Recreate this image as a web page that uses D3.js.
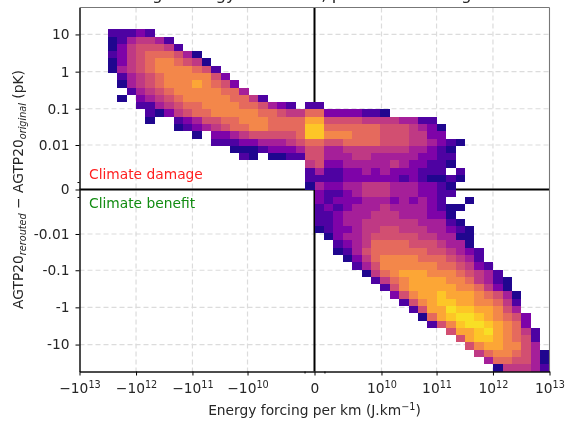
<!DOCTYPE html>
<html>
<head>
<meta charset="utf-8">
<script src="https://cdn.jsdelivr.net/npm/d3@7"></script>
<style>
  html, body { margin: 0; padding: 0; background: #fff; }
  svg { display: block; filter: blur(0.35px); }
  text { font-family: "DejaVu Sans"; fill: #262626; }
</style>
</head>
<body>
<script>
// ----- data -----
const xTickValues = [-1e13, -1e12, -1e11, -1e10, 0, 1e10, 1e11, 1e12, 1e13];
const xTickExponents = [13, 12, 11, 10, null, 10, 11, 12, 13];
const yTickValues = [10, 1, 0.1, 0.01, 0, -0.01, -0.1, -1, -10];
const yTickLabels = ['10', '1', '0.1', '0.01', '0', '-0.01', '-0.1', '-1', '-10'];
const xMinorTicks = [-3.5e8, 3.5e8];
const yMinorTicks = [-4e-4, 4e-4];

// plasma position for each density level character 0-9 and a
const levelValues = [0.03, 0.13, 0.25, 0.36, 0.45, 0.53, 0.62, 0.71, 0.8, 0.88, 0.94];

// first filled column of each row, top row first (50 x 50 bins)
const rowStart = [
  0, 0, 0, 3, 3, 3, 3, 3, 3, 4,
  4, 5, 4, 6, 7, 7, 10, 12, 14, 16,
  17, 24, 24, 24, 24, 25, 25, 25, 25, 25,
  25, 26, 27, 27, 28, 29, 30, 31, 32, 33,
  34, 35, 36, 37, 39, 40, 41, 42, 43, 44
];
// density level of each bin, '.' is an empty bin
const rowLevels = [
  '', '', '',
  '11121',
  '0134431',
  '02455541',
  '1245666530',
  '02456776540',
  '034567777651',
  '134567777752',
  '0345677787652',
  '1345677777663',
  '0.23456777776641',
  '11345667777665321.11',
  '10245667777766544662222110',
  '0..1235566777666688555544443311',
  '01234566776666996666665554320',
  '0.2234555556997776665554422',
  '111223334566556666555443210',
  '000122235533444444433210',
  '10.00115533344333332211',
  '4522333334322110',
  '131122323222111.1',
  '11112222221210010',
  '0322334443332210',
  '211234443332211',
  '21222333232321..0',
  '1212333433332100',
  '112333444333220',
  '1123344444433310',
  '01223445544433210',
  '0233455555443300',
  '123466665554330',
  '0135666666554321',
  '024677776665431',
  '135777777665421',
  '046788877765431',
  '146788887764310',
  '15788888776420',
  '25788988876530',
  '1578998877641',
  '1588a9988753',
  '0689aa987652',
  '1579aa98762',
  '5889a87641',
  '589987651',
  '57887753',
  '46776530',
  '3665530',
  '044431'
];

// ----- creates svg -----
const plotLeft = 79.5, plotRight = 549.5, plotTop = 7.5, plotBottom = 371.5;
const fontSize = 13.8, smallFont = 9.7;

const svg = d3.select('body')
  .append('svg')
  .attr('width', 568)
  .attr('height', 426);

// ----- scales -----
const x = d3.scaleSymlog().constant(7e8).domain([-1e13, 1e13]).range([plotLeft, plotRight]);
const y = d3.scaleSymlog().constant(6.8e-4).domain([53, -53]).range([plotTop, plotBottom]);
const colBand = d3.scaleBand().domain(d3.range(50)).range([plotLeft, plotRight]);
const rowBand = d3.scaleBand().domain(d3.range(50)).range([plotTop, plotBottom]);
const color = d3.scaleSequential(d3.interpolatePlasma).domain([0, 1]);

// ----- grid -----
const grid = svg.append('g')
  .attr('stroke', '#dcdcdc')
  .attr('stroke-width', 1.2)
  .attr('stroke-dasharray', '5,3');

grid.selectAll('.vgrid')
  .data(xTickValues.slice(1, -1).filter(d => d !== 0))
  .join('line')
  .attr('class', 'vgrid')
  .attr('x1', d => x(d)).attr('x2', d => x(d))
  .attr('y1', plotTop).attr('y2', plotBottom);

grid.selectAll('.hgrid')
  .data(yTickValues.filter(d => d !== 0))
  .join('line')
  .attr('class', 'hgrid')
  .attr('x1', plotLeft).attr('x2', plotRight)
  .attr('y1', d => y(d)).attr('y2', d => y(d));

// ----- zero lines, the bins sit on top of them -----
svg.append('line')
  .attr('x1', plotLeft).attr('x2', plotRight)
  .attr('y1', y(0)).attr('y2', y(0))
  .attr('stroke', '#000').attr('stroke-width', 2);
svg.append('line')
  .attr('x1', x(0)).attr('x2', x(0))
  .attr('y1', plotTop).attr('y2', plotBottom)
  .attr('stroke', '#000').attr('stroke-width', 2);

// ----- bins -----
const cells = [];
rowLevels.forEach((levels, row) => {
  levels.split('').forEach((ch, i) => {
    if (ch !== '.') cells.push({ row, col: rowStart[row] + i, level: parseInt(ch, 11) });
  });
});

svg.append('g')
  .selectAll('rect')
  .data(cells)
  .join('rect')
  .attr('x', d => colBand(d.col))
  .attr('y', d => rowBand(d.row))
  .attr('width', colBand.bandwidth())
  .attr('height', rowBand.bandwidth())
  .attr('shape-rendering', 'crispEdges')
  .attr('fill', d => color(levelValues[d.level]));

// ----- spines -----
svg.append('line').attr('x1', plotLeft).attr('x2', plotRight).attr('y1', plotTop).attr('y2', plotTop)
  .attr('stroke', '#777').attr('stroke-width', 1.1);
svg.append('line').attr('x1', plotRight).attr('x2', plotRight).attr('y1', plotTop).attr('y2', plotBottom)
  .attr('stroke', '#777').attr('stroke-width', 1.1);

// ----- axes -----
const xAxis = svg.append('g')
  .attr('transform', `translate(0, ${plotBottom})`)
  .call(d3.axisBottom(x).tickValues(xTickValues).tickSize(4).tickSizeOuter(0).tickFormat(''));
xAxis.selectAll('text').remove();

xAxis.selectAll('.tick').append('text')
  .attr('y', 21.5)
  .attr('text-anchor', 'middle')
  .attr('font-size', fontSize)
  .each(function (d, i) {
    const label = d3.select(this);
    const exponent = xTickExponents[i];
    if (exponent === null) { label.text('0'); return; }
    label.append('tspan').text(d < 0 ? '\u221210' : '10');
    label.append('tspan').attr('dy', -5.5).attr('font-size', smallFont).text(exponent);
  });

svg.append('g')
  .attr('transform', `translate(0, ${plotBottom})`)
  .call(d3.axisBottom(x).tickValues(xMinorTicks).tickSize(2).tickSizeOuter(0).tickFormat(''));

const yAxis = svg.append('g')
  .attr('transform', `translate(${plotLeft}, 0)`)
  .call(d3.axisLeft(y).tickValues(yTickValues).tickSize(4).tickSizeOuter(0)
    .tickFormat((d, i) => yTickLabels[i]));
yAxis.selectAll('text')
  .attr('font-size', fontSize)
  .attr('font-family', '"DejaVu Sans"')
  .attr('x', -10);

svg.append('g')
  .attr('transform', `translate(${plotLeft}, 0)`)
  .call(d3.axisLeft(y).tickValues(yMinorTicks).tickSize(2).tickSizeOuter(0).tickFormat(''));

svg.selectAll('.domain').attr('stroke', '#111');

// ----- texts -----
svg.append('text')
  .attr('x', 314.5)
  .attr('y', 0)
  .attr('text-anchor', 'middle')
  .attr('font-size', 16.6)
  .text('Average energy and AGTP, per km rerouting effect');

svg.append('text')
  .attr('x', 314.5)
  .attr('y', 415)
  .attr('text-anchor', 'middle')
  .attr('font-size', fontSize)
  .call(t => {
    t.append('tspan').text('Energy forcing per km (J.km');
    t.append('tspan').attr('dy', -5.5).attr('font-size', smallFont).text('\u22121');
    t.append('tspan').attr('dy', 5.5).text(')');
  });

svg.append('text')
  .attr('text-anchor', 'middle')
  .attr('font-size', fontSize)
  .attr('transform', `translate(23, 189.5) rotate(-90)`)
  .call(t => {
    t.append('tspan').text('AGTP20');
    t.append('tspan').attr('dy', 3).attr('font-size', smallFont).attr('font-style', 'italic').text('rerouted');
    t.append('tspan').attr('dy', -3).text(' \u2212 AGTP20');
    t.append('tspan').attr('dy', 3).attr('font-size', smallFont).attr('font-style', 'italic').text('original');
    t.append('tspan').attr('dy', -3).text(' (pK)');
  });

svg.append('text')
  .attr('x', 89).attr('y', 179)
  .attr('font-size', fontSize)
  .style('fill', '#ff1f1f')
  .text('Climate damage');

svg.append('text')
  .attr('x', 89).attr('y', 207.5)
  .attr('font-size', fontSize)
  .style('fill', '#128c12')
  .text('Climate benefit');
</script>
</body>
</html>
